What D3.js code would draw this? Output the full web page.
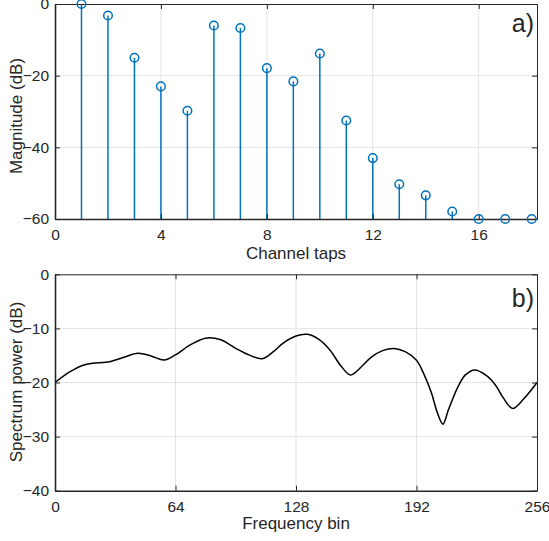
<!DOCTYPE html>
<html lang="en">
<head>
    <meta charset="UTF-8">
    <title>channel taps and spectrum</title>
    <script src="https://d3js.org/d3.v7.min.js"></script>
    <style>
        body { margin: 0; background: #fff; }
        text { font-family: "Liberation Sans", Arial, Helvetica, sans-serif; fill: #262626; }
    </style>
</head>
<body>
    <svg width="549" height="541"></svg>
    <script>
        // top plot: tap magnitudes (dB)
        const taps = [1, 2, 3, 4, 5, 6, 7, 8, 9, 10, 11, 12, 13, 14, 15, 16, 17, 18];
        const tapMag = [0, -3.2, -15.0, -23.0, -29.8, -6.0, -6.7, -17.9, -21.6, -13.8, -32.5, -43.0, -50.3, -53.4, -57.9, -60, -60, -60];
        const tapXTicks = [0, 4, 8, 12, 16];
        const tapYTicks = [-60, -40, -20, 0];

        // bottom plot: spectrum power (dB) read at these bins
        const bins = [0, 8, 15, 20, 29, 37, 44, 51, 58, 64, 72, 80, 88, 96, 103, 110, 116, 121, 128, 134, 140, 146, 152, 157, 163, 168, 174, 180, 186, 192, 196, 200, 203, 206, 209, 214, 218, 223, 229, 234, 238, 243, 249, 256];
        const power = [-20, -18.0, -16.8, -16.45, -16.15, -15.3, -14.6, -15.1, -15.85, -14.9, -13.0, -11.8, -12.1, -13.7, -14.9, -15.6, -14.3, -12.75, -11.4, -11.1, -12.0, -14.0, -17.0, -18.6, -17.0, -15.3, -14.1, -13.7, -14.3, -15.9, -18.5, -22.0, -25.5, -27.7, -25.0, -20.8, -18.6, -17.7, -18.7, -20.5, -22.8, -24.8, -23.0, -20];
        const binTicks = [0, 64, 128, 192, 256];
        const powerTicks = [-40, -30, -20, -10, 0];

        const svg = d3.select('svg');
        const left = 55, right = 537;
        const blue = '#0072BD';

        function frame(g, x, y, xTicks, yTicks, top, bottom) {
            // grid
            g.selectAll('.gx').data(xTicks).join('line')
                .attr('x1', d => x(d)).attr('x2', d => x(d))
                .attr('y1', top).attr('y2', bottom)
                .attr('stroke', '#e3e3e3').attr('stroke-width', 1);
            g.selectAll('.gy').data(yTicks).join('line')
                .attr('x1', left).attr('x2', right)
                .attr('y1', d => y(d)).attr('y2', d => y(d))
                .attr('stroke', '#e3e3e3').attr('stroke-width', 1);
        }

        function axes(g, x, y, xTicks, yTicks, top, bottom) {
            const xa = g.append('g').attr('transform', `translate(0,${bottom})`)
                .call(d3.axisBottom(x).tickValues(xTicks).tickSizeInner(-5).tickSizeOuter(0).tickPadding(10));
            const xt = g.append('g').attr('transform', `translate(0,${top})`)
                .call(d3.axisTop(x).tickValues(xTicks).tickSizeInner(-5).tickSizeOuter(0).tickFormat(''));
            const ya = g.append('g').attr('transform', `translate(${left},0)`)
                .call(d3.axisLeft(y).tickValues(yTicks).tickSizeInner(-5).tickSizeOuter(0).tickPadding(6));
            const yr = g.append('g').attr('transform', `translate(${right},0)`)
                .call(d3.axisRight(y).tickValues(yTicks).tickSizeInner(-5).tickSizeOuter(0).tickFormat(''));
            [xa, xt, ya, yr].forEach(a => {
                a.selectAll('path').attr('stroke', '#262626').attr('stroke-width', 1);
                a.selectAll('line').attr('stroke', '#262626');
                a.selectAll('text').attr('font-size', 15.5).attr('fill', '#262626')
                    .style('font-family', '"Liberation Sans", Arial, sans-serif');
            });
            xa.select('path').attr('stroke-width', 1.6);
            ya.select('path').attr('stroke-width', 1.6);
            xa.selectAll('text').attr('dy', '0.71em');
        }

        // ---- top plot
        const t = svg.append('g');
        const x1 = d3.scaleLinear().domain([0, 18.2]).range([left, right]);
        const y1 = d3.scaleLinear().domain([-60, 0]).range([219, 4]);
        frame(t, x1, y1, tapXTicks.slice(1), tapYTicks.slice(1, 3), 4, 219);

        t.selectAll('.stem').data(taps).join('line')
            .attr('x1', d => x1(d)).attr('x2', d => x1(d))
            .attr('y1', y1(-60)).attr('y2', (d, i) => y1(tapMag[i]))
            .attr('stroke', blue).attr('stroke-width', 1.5);
        axes(t, x1, y1, tapXTicks, tapYTicks, 4, 219);
        t.selectAll('.mk').data(taps).join('circle')
            .attr('cx', d => x1(d)).attr('cy', (d, i) => y1(tapMag[i]))
            .attr('r', 4.3).attr('fill', 'none')
            .attr('stroke', blue).attr('stroke-width', 1.5);

        t.append('text').attr('x', 534).attr('y', 32).attr('text-anchor', 'end')
            .attr('font-size', 25).attr('fill', '#000').text('a)');
        t.append('text').attr('x', 296).attr('y', 259).attr('text-anchor', 'middle')
            .attr('font-size', 17).text('Channel taps');
        t.append('text').attr('transform', 'translate(21.5,116) rotate(-90)')
            .attr('text-anchor', 'middle').attr('font-size', 17).text('Magnitude (dB)');

        // ---- bottom plot
        const b = svg.append('g');
        const x2 = d3.scaleLinear().domain([0, 256]).range([left, right]);
        const y2 = d3.scaleLinear().domain([-40, 0]).range([490.7, 274.3]);
        frame(b, x2, y2, binTicks.slice(1, 4), powerTicks.slice(1, 4), 274.3, 490.7);

        const line = d3.line()
            .x((d, i) => x2(bins[i]))
            .y(d => y2(d))
            .curve(d3.curveCatmullRom.alpha(0.5));
        b.append('path').attr('d', line(power))
            .attr('fill', 'none').attr('stroke', '#000').attr('stroke-width', 1.5);
        axes(b, x2, y2, binTicks, powerTicks, 274.3, 490.7);

        b.append('text').attr('x', 534).attr('y', 307).attr('text-anchor', 'end')
            .attr('font-size', 25).attr('fill', '#000').text('b)');
        b.append('text').attr('x', 296).attr('y', 529).attr('text-anchor', 'middle')
            .attr('font-size', 17).text('Frequency bin');
        b.append('text').attr('transform', 'translate(21.5,382) rotate(-90)')
            .attr('text-anchor', 'middle').attr('font-size', 17).text('Spectrum power (dB)');
    </script>
</body>
</html>
